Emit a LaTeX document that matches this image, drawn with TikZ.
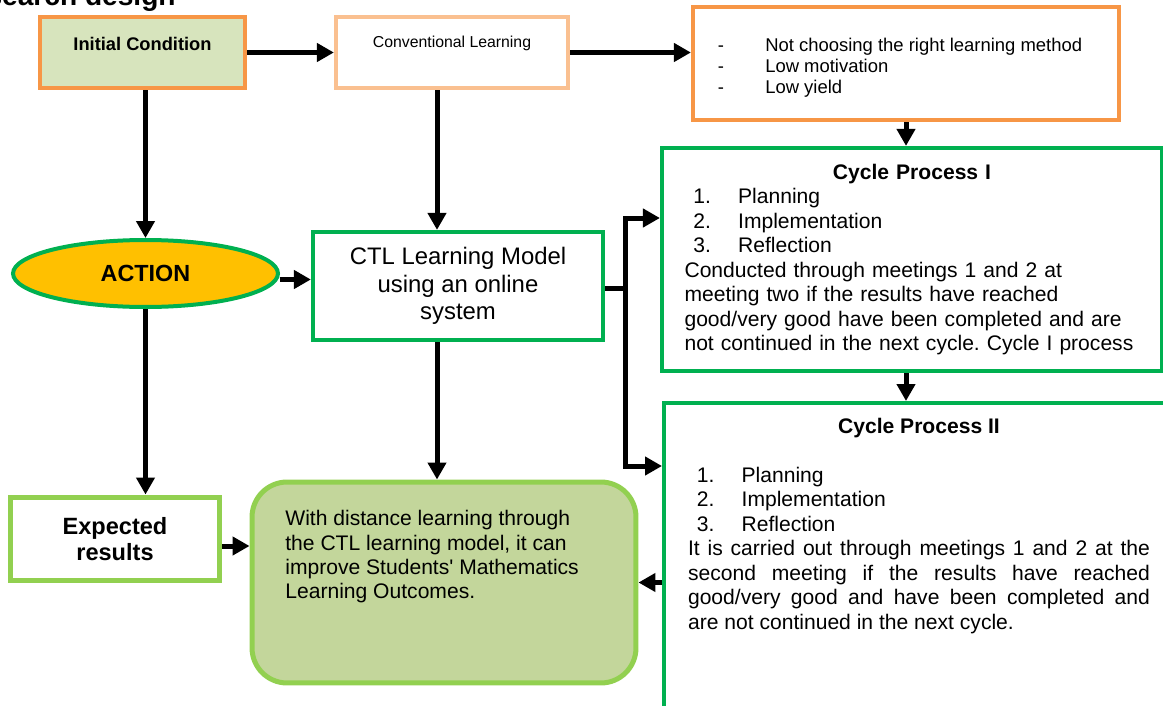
\documentclass[tikz,border=0pt]{standalone}
\usepackage{fontspec}
\setmainfont{Liberation Sans}
\usetikzlibrary{arrows.meta,shapes.geometric}

\definecolor{boxorange}{HTML}{F79646}
\definecolor{paleorange}{HTML}{FAC090}
\definecolor{initgreen}{HTML}{D7E4BD}
\definecolor{cyclegreen}{HTML}{00B050}
\definecolor{limegreen}{HTML}{92D050}
\definecolor{resultfill}{HTML}{C3D69B}
\definecolor{actionfill}{HTML}{FFC000}

\newcommand{\fsz}[2]{\fontsize{#1}{#2}\selectfont}
\newcommand{\numitem}[1]{\hspace*{5pt}\makebox[25.5pt][l]{#1}}
\frenchspacing

\tikzset{
  flowtip/.tip={Triangle[length=0.34cm,width=0.36cm]},
  flow/.style={line width=0.1cm,-flowtip},
  boxline/.style={draw,line width=0.085cm,inner sep=0pt},
}

\begin{document}
\begin{tikzpicture}[x=0.02cm,y=-0.02cm]
\useasboundingbox (0,0) rectangle (1163,706);

% title, cut off by the page
\node[anchor=base east,inner sep=0,font=\bfseries\fsz{16}{19}] (heading) at (176,6) {Research design};

\node[boxline,draw=boxorange,fill=initgreen,minimum width=4.1cm,minimum height=1.42cm,
  font=\bfseries\fsz{10.4}{12}] (init) at (142.5,52.5) {\raisebox{0.34cm}{Initial Condition}};
\node[boxline,draw=paleorange,minimum width=4.64cm,minimum height=1.42cm,
  font=\fsz{9}{11}] (conv) at (452,52.5) {\raisebox{0.42cm}{Conventional Learning}};
\node[boxline,draw=boxorange,minimum width=8.52cm,minimum height=2.26cm] (probs) at (906,63.5) {};
\node[align=left,inner sep=0,font=\fsz{10.5}{11.9}] (probstext) at ([xshift=-0.12cm,yshift=-0.08cm]probs.center)
  {\makebox[27pt][l]{-}Not choosing the right learning method\\
   \makebox[27pt][l]{-}Low motivation\\
   \makebox[27pt][l]{-}Low yield};

\node[ellipse,draw=cyclegreen,fill=actionfill,line width=0.08cm,minimum width=5.3cm,
  minimum height=1.34cm,inner sep=0,font=\bfseries\fsz{13.3}{16}] (act) at (145.5,273.5) {ACTION};
\node[boxline,draw=cyclegreen,minimum width=5.8cm,minimum height=2.16cm,align=center,
  font=\fsz{13.6}{15.6}] (ctl) at (458,286) {CTL Learning Model\\using an online\\system};

\node[boxline,draw=cyclegreen,minimum width=10cm,minimum height=4.46cm,text width=9.1cm,
  align=left,font=\fsz{12}{13.9}] (cycI) at (912,259.5)
  {\makebox[9.1cm][c]{\textbf{Cycle Process I}}\\
   \numitem{1.}Planning\\
   \numitem{2.}Implementation\\
   \numitem{3.}Reflection\\
   Conducted through meetings 1 and 2 at\\
   meeting two if the results have reached\\
   good/very good have been completed and are\\
   not continued in the next cycle. Cycle I process};

\node[boxline,draw=cyclegreen,minimum width=10.3cm,minimum height=6.4cm,anchor=north west] (cycII) at (662,401) {};
\node[anchor=north,inner sep=0,text width=9.24cm,align=justify,font=\fsz{12}{13.9}] (cycIItext) at (919,418)
  {\makebox[9.24cm][c]{\textbf{Cycle Process II}}\\[13.9pt]
   \numitem{1.}Planning\\
   \numitem{2.}Implementation\\
   \numitem{3.}Reflection\\
   It is carried out through meetings 1 and 2 at the\linebreak
   second meeting if the results have reached\linebreak
   good/very good and have been completed and\linebreak
   are not continued in the next cycle.};

\node[boxline,draw=limegreen,line width=0.1cm,minimum width=4.2cm,minimum height=1.68cm,align=center,
  font=\bfseries\fsz{13.4}{14.7}] (expd) at (115,539) {Expected\\results};
\node[draw=limegreen,fill=resultfill,line width=0.1cm,rounded corners=0.7cm,
  minimum width=7.68cm,minimum height=4.02cm] (outc) at (444,582.5) {};
\node[anchor=north west,inner sep=0,align=left,font=\fsz{12}{13.9}] (outtext) at (285,510)
  {With distance learning through\\the CTL learning model, it can\\
   improve Students\textquotesingle\ Mathematics\\Learning Outcomes.};

\coordinate (midx) at (437,0);
\coordinate (forktop) at (625,218);
\coordinate (forkbot) at (625,466);

\draw[flow] (init.east) -- (conv.west);
\draw[flow] (conv.east) -- (probs.west |- conv.east);
\draw[flow] (probs.south) -- (probs.south |- cycI.north);
\draw[flow] (probs.south |- cycI.south) -- (probs.south |- cycII.north);
\draw[flow] (init.south -| act.north) -- (act.north);
\draw[flow] (conv.south -| midx) -- (ctl.north -| midx);
\draw[flow] ([yshift=-0.12cm]act.east) -- ([yshift=-0.12cm]act.east -| ctl.west);
\draw[line width=0.1cm] ([yshift=-0.04cm]ctl.east) -- ([yshift=-0.04cm]ctl.east -| forktop);
\draw[line width=0.1cm,flowtip-flowtip] (forktop -| cycI.west) -- (forktop) -- (forkbot) -- (forkbot -| cycII.west);
\draw[flow] (act.south) -- (act.south |- expd.north);
\draw[flow] (ctl.south -| midx) -- (outc.north -| midx);
\draw[flow] ([yshift=-0.14cm]expd.east) -- ([yshift=-0.14cm]expd.east -| outc.west);
\draw[flow] (cycII.west |- outc.east) -- (outc.east);
\end{tikzpicture}
\end{document}
